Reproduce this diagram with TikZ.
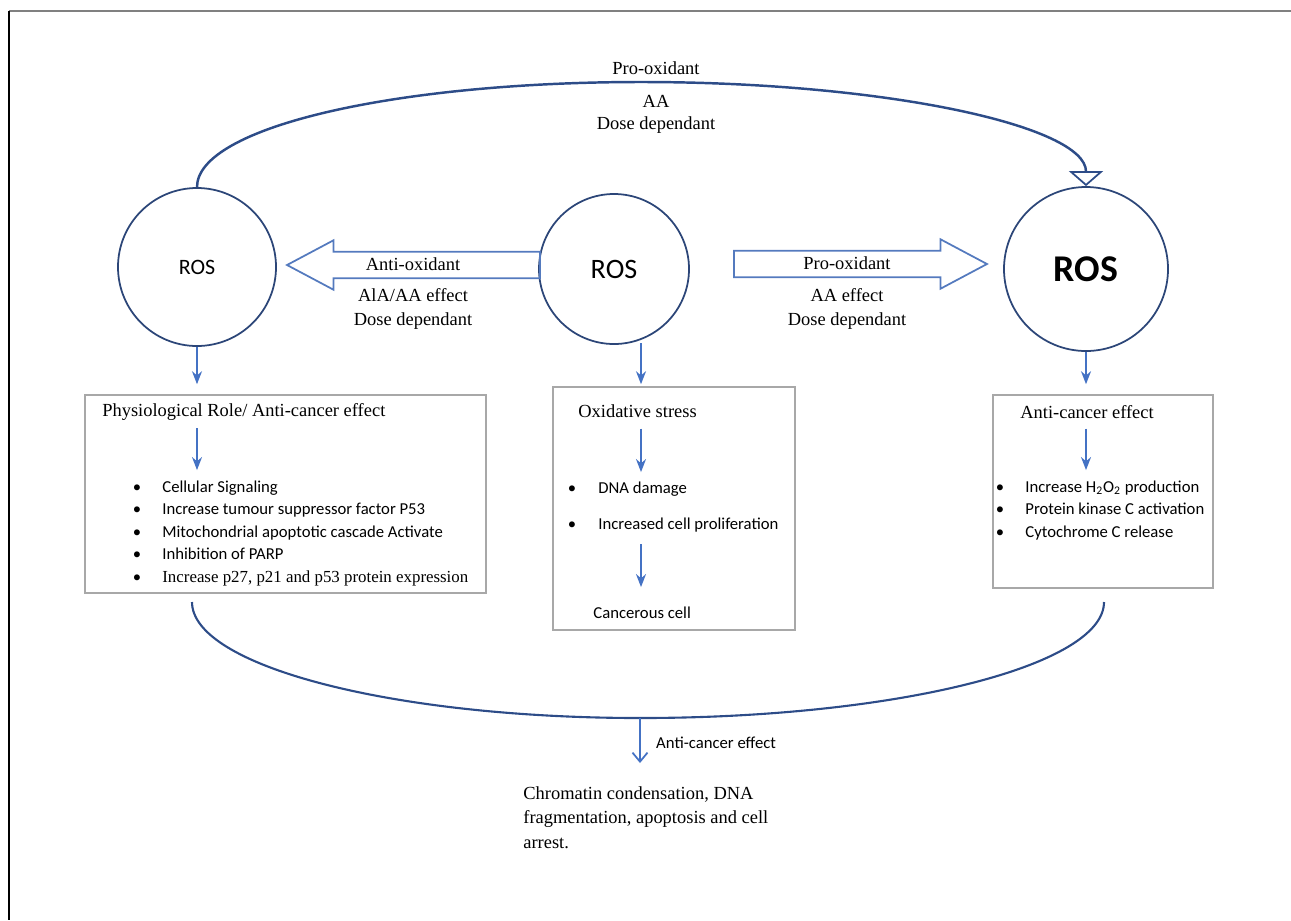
\documentclass[tikz,border=0pt]{standalone}
\usepackage{fontspec}
\setmainfont{Liberation Serif}
\newfontfamily\calibri{Carlito}
\usetikzlibrary{arrows.meta,positioning,shapes.arrows,calc}
\definecolor{rosnavy}{RGB}{44,70,120}
\definecolor{curvenavy}{RGB}{45,76,136}
\definecolor{blockblue}{RGB}{84,122,190}
\definecolor{arrowblue}{RGB}{68,114,196}
\definecolor{boxgray}{RGB}{168,168,168}
\begin{document}
\begin{tikzpicture}[x=0.2mm, y=-0.2mm,
			serif/.style={font=\fontsize{10.5}{13.5}\selectfont},
			sans/.style={font=\calibri\fontsize{9.5}{11}\selectfont},
			ros/.style={circle, draw=rosnavy, line width=1pt, inner sep=0pt},
			blockarr/.style={single arrow, draw=blockblue, line width=1pt, inner xsep=0pt, inner ysep=3.3pt,
				text height=7.5pt, text depth=0pt, single arrow head extend=6.5pt, single arrow tip angle=56, minimum height=5.06cm},
			panel/.style={draw=boxgray, line width=0.9pt},
			sarrow/.style={draw=arrowblue, line width=1pt, -{Stealth[length=2.6mm, width=2mm]}},
			curve/.style={draw=curvenavy, line width=1.4pt},
			title/.style={serif, anchor=base west, inner sep=0pt},
			item/.style={sans, anchor=base west, inner sep=0pt},
			dot/.style={sans, anchor=base, inner sep=0pt}]
			\useasboundingbox (0,0) rectangle (1291,920);
			\draw[line width=1pt, gray] (9,11) -- (1291,11);
			\draw[line width=1pt] (9,11) -- (9,920);
			% the three ROS circles
			\node[ros, minimum size=3.16cm, font=\calibri\fontsize{12.5}{14}\selectfont] (rosL) at (197,267) {ROS};
			\node[ros, minimum size=3.0cm, font=\calibri\fontsize{16}{18}\selectfont] (rosM) at (614,269) {ROS};
			\node[ros, minimum size=3.28cm, font=\calibri\bfseries\fontsize{21.5}{24}\selectfont] (rosR) at (1086,269) {ROS};
			% block arrows between them
			\node[blockarr, shape border rotate=180] (antiox) at (426,265) {};
			\node[blockarr] (proox) at (848,264) {};
			\node[serif] (antitxt) at (413,264) {Anti-oxidant};
			\node[serif] (proxtxt) at (847,263) {Pro-oxidant};
			\node[serif, align=center] (antilbl) at (413,309) {AlA/AA effect\\Dose dependant};
			\node[serif, align=center] (proxlbl) at (847,309) {AA effect\\Dose dependant};
			% pro-oxidant loop over the top
			\coordinate (arcTop) at (641,82);
			\draw[curve, -{Triangle[open, length=3mm, width=6.8mm, line width=1pt]}] (rosL.north) .. controls +(0,-60) and +(-245,0) .. (arcTop)
				.. controls +(245,0) and +(0,-60) .. (rosR.north);
			\node[serif] (proxtop) at (656,68) {Pro-oxidant};
			\node[serif, align=center, font=\fontsize{10.5}{12.5}\selectfont] (aatop) at (656,114) {AA\\Dose dependant};
			% boxes
			\node[panel, minimum width=8.02cm, minimum height=3.96cm] (physbox) at (285.5,494) {};
			\node[panel, minimum width=4.84cm, minimum height=4.86cm] (oxbox) at (674,508.5) {};
			\node[panel, minimum width=4.4cm, minimum height=3.86cm] (acbox) at (1103,491.5) {};
			\node[title] (phystitle) at (102,416) {Physiological Role/ Anti-cancer effect};
			\node[title] (oxtitle) at (578,417) {Oxidative stress};
			\node[title] (actitle) at (1020,418) {Anti-cancer effect};
			\foreach \t [count=\i] in {Cellular Signaling, Increase tumour suppressor factor P53,
				Mitochondrial apoptotic cascade Activate, Inhibition of PARP}{
				\node[dot] (physd\i) at (137,{492+(\i-1)*22.5}) {\textbullet};
				\node[item] (physb\i) at (162,{492+(\i-1)*22.5}) {\t};
			}
			\node[dot] (physd5) at (137,582) {\textbullet};
			\node[item, font=\fontsize{9.6}{11}\selectfont] (physb5) at (162,582) {Increase p27, p21 and p53 protein expression};
			\node[dot] (oxd1) at (572,493) {\textbullet};
			\node[item] (oxb1) at (598,493) {DNA damage};
			\node[dot] (oxd2) at (572,529) {\textbullet};
			\node[item] (oxb2) at (598,529) {Increased cell proliferation};
			\node[item] (cancer) at (593,618) {Cancerous cell};
			\foreach \t [count=\i] in {Increase H\textsubscript{2}O\textsubscript{2} production, Protein kinase C activation, Cytochrome C release}{
				\node[dot] (acd\i) at (1000,{492+(\i-1)*22.5}) {\textbullet};
				\node[item] (acb\i) at (1025,{492+(\i-1)*22.5}) {\t};
			}
			% small arrows
			\coordinate (axis) at (641,343);
			\draw[sarrow, shorten >=2mm] (rosL.south) -- (rosL |- physbox.north);
			\draw[sarrow, shorten >=0.4mm] (axis) -- (axis |- oxbox.north);
			\draw[sarrow, shorten >=2mm] (rosR.south) -- (rosR |- acbox.north);
			\draw[sarrow, shorten <=1.6mm, shorten >=2mm] (rosL |- phystitle.south) -- (rosL |- physb1.north);
			\draw[sarrow, shorten <=2.2mm, shorten >=1.8mm] (axis |- oxtitle.south) -- (axis |- oxb1.north);
			\draw[sarrow, shorten <=2.4mm, shorten >=3.8mm] (axis |- oxb2.south) -- (axis |- cancer.north);
			\draw[sarrow, shorten <=2mm, shorten >=2mm] (rosR |- actitle.south) -- (rosR |- acb1.north);
			% joining curve underneath
			\coordinate (jL) at (192,602);
			\coordinate (jB) at (640,718);
			\coordinate (jR) at (1104,602);
			\draw[curve, line width=1.2pt] (jL) .. controls +(0,64) and +(-247,0) .. (jB) .. controls +(256,0) and +(0,64) .. (jR);
			\node[serif, anchor=north west, align=left, inner sep=0pt, font=\fontsize{10.5}{13.9}\selectfont] (final) at (523,786)
				{Chromatin condensation, DNA\\fragmentation, apoptosis and cell\\arrest.};
			\draw[draw=arrowblue, line width=1pt, -{Straight Barb[length=1.8mm, width=3mm]}, shorten >=4.6mm] (jB) -- (jB |- final.north);
			\node[sans, anchor=west] (aclbl) at (650,743) {Anti-cancer effect};
		\end{tikzpicture}
\end{document}
